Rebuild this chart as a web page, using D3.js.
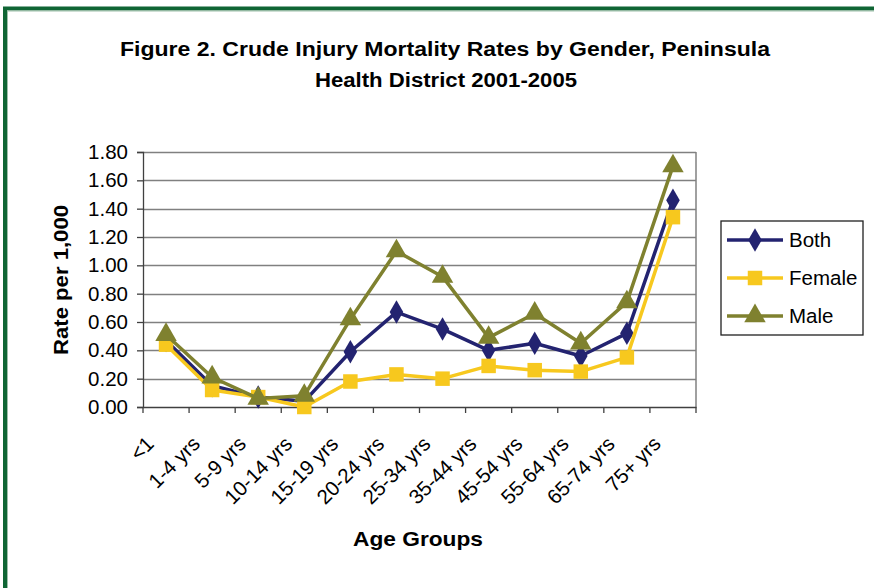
<!DOCTYPE html>
<html>
<head>
<meta charset="utf-8">
<script src="https://cdn.jsdelivr.net/npm/d3@7"></script>
<style>
  body { margin: 0; background: #fff; }
  text { font-family: "Liberation Sans", Arial, sans-serif; fill: #000; }
</style>
</head>
<body>
<div id="chartDiv"></div>
<script>
var ages = ["<1", "1-4 yrs", "5-9 yrs", "10-14 yrs", "15-19 yrs", "20-24 yrs", "25-34 yrs",
  "35-44 yrs", "45-54 yrs", "55-64 yrs", "65-74 yrs", "75+ yrs"];

var series = [
  { name: "Both", color: "#232370", shape: "diamond",
    values: [0.47, 0.15, 0.07, 0.04, 0.39, 0.67, 0.55, 0.40, 0.45, 0.36, 0.52, 1.46] },
  { name: "Female", color: "#F7C81E", shape: "square",
    values: [0.44, 0.12, 0.07, 0.00, 0.18, 0.23, 0.20, 0.29, 0.26, 0.25, 0.35, 1.34] },
  { name: "Male", color: "#7F812F", shape: "triangle",
    values: [0.51, 0.21, 0.06, 0.08, 0.62, 1.10, 0.92, 0.49, 0.66, 0.45, 0.74, 1.70] }
];

var margin = { top: 152, right: 178, bottom: 181, left: 143 };
var W = 874, H = 588;
var width = W - margin.left - margin.right;
var height = H - margin.top - margin.bottom;

var svg = d3.select("#chartDiv").append("svg")
  .attr("width", W)
  .attr("height", H);

// green frame
svg.append("rect")
  .attr("x", 5).attr("y", 8.5)
  .attr("width", W + 20).attr("height", H + 20)
  .attr("fill", "none")
  .attr("stroke", "#0F6534")
  .attr("stroke-width", 4);
svg.append("rect")
  .attr("x", 7.5).attr("y", 11)
  .attr("width", W + 20).attr("height", H + 20)
  .attr("fill", "none")
  .attr("stroke", "#9DBFA9")
  .attr("stroke-width", 1);

svg.append("text")
  .attr("x", 445).attr("y", 56)
  .attr("text-anchor", "middle")
  .attr("textLength", 650).attr("lengthAdjust", "spacingAndGlyphs")
  .style("font-size", "20px").style("font-weight", "bold")
  .text("Figure 2. Crude Injury Mortality Rates by Gender, Peninsula");
svg.append("text")
  .attr("x", 446).attr("y", 87)
  .attr("text-anchor", "middle")
  .attr("textLength", 262).attr("lengthAdjust", "spacingAndGlyphs")
  .style("font-size", "20px").style("font-weight", "bold")
  .text("Health District 2001-2005");

var g = svg.append("g")
  .attr("transform", "translate(" + margin.left + "," + margin.top + ")");

var x = d3.scaleBand().domain(ages).range([0, width]);
var y = d3.scaleLinear().domain([0, 1.8]).range([height, 0]);

// gridlines
g.append("g")
  .selectAll("line")
  .data(d3.range(0.2, 1.81, 0.2))
  .enter().append("line")
  .attr("x1", 0).attr("x2", width)
  .attr("y1", function (d) { return Math.round(y(d)) + 0.5; })
  .attr("y2", function (d) { return Math.round(y(d)) + 0.5; })
  .attr("stroke", "#808080")
  .attr("stroke-width", 1.5);

// right border
g.append("line")
  .attr("x1", width).attr("x2", width)
  .attr("y1", 0).attr("y2", height)
  .attr("stroke", "#808080").attr("stroke-width", 1.5);

var yAxis = g.append("g")
  .call(d3.axisLeft(y).tickValues(d3.range(0, 1.81, 0.2)).tickFormat(d3.format(".2f")).tickSize(6).tickPadding(9));
yAxis.selectAll("text").style("font-size", "20.5px");
yAxis.selectAll("line,path").attr("stroke", "#404040").attr("stroke-width", 1.3);

var xAxis = g.append("g")
  .attr("transform", "translate(0," + height + ")")
  .call(d3.axisBottom(x).tickSize(0).tickSizeOuter(0));
xAxis.select("path").attr("stroke", "#404040").attr("stroke-width", 1.3);
xAxis.selectAll("text")
  .style("font-size", "20.5px")
  .attr("text-anchor", "end")
  .attr("dy", null)
  .attr("transform", function () { return "translate(-13,36) rotate(-45)"; });

// category separator ticks
g.append("g")
  .selectAll("line")
  .data(d3.range(ages.length + 1))
  .enter().append("line")
  .attr("x1", function (i) { return i * x.step(); })
  .attr("x2", function (i) { return i * x.step(); })
  .attr("y1", height).attr("y2", height + 6)
  .attr("stroke", "#404040").attr("stroke-width", 1.3);

function cx(i) { return x(ages[i]) + x.bandwidth() / 2; }

var symbols = { diamond: d3.symbolDiamond, square: d3.symbolSquare, triangle: d3.symbolTriangle };
var sizes = { diamond: 160, square: 210, triangle: 200 };

var line = d3.line()
  .x(function (d, i) { return cx(i); })
  .y(function (d) { return y(d); });

series.forEach(function (s) {
  g.append("path")
    .datum(s.values)
    .attr("d", line)
    .attr("fill", "none")
    .attr("stroke", s.color)
    .attr("stroke-width", 3.5)
    .attr("stroke-linejoin", "round");
  g.selectAll(".m-" + s.shape)
    .data(s.values)
    .enter().append("path")
    .attr("class", "m-" + s.shape)
    .attr("d", d3.symbol().type(symbols[s.shape]).size(sizes[s.shape]))
    .attr("transform", function (d, i) { return "translate(" + cx(i) + "," + y(d) + ")"; })
    .attr("fill", s.color);
});

svg.append("text")
  .attr("x", 418).attr("y", 546)
  .attr("text-anchor", "middle")
  .attr("textLength", 130).attr("lengthAdjust", "spacingAndGlyphs")
  .style("font-size", "21px").style("font-weight", "bold")
  .text("Age Groups");

svg.append("text")
  .attr("transform", "translate(68,280) rotate(-90)")
  .attr("text-anchor", "middle")
  .attr("textLength", 150).attr("lengthAdjust", "spacingAndGlyphs")
  .style("font-size", "21px").style("font-weight", "bold")
  .text("Rate per 1,000");

// legend
var legend = svg.append("g").attr("transform", "translate(721,221)");
legend.append("rect")
  .attr("width", 142).attr("height", 114)
  .attr("fill", "#fff").attr("stroke", "#202020").attr("stroke-width", 1.3);
series.forEach(function (s, i) {
  var ly = 19 + i * 38;
  legend.append("line")
    .attr("x1", 6).attr("x2", 62).attr("y1", ly).attr("y2", ly)
    .attr("stroke", s.color).attr("stroke-width", 3.5);
  legend.append("path")
    .attr("d", d3.symbol().type(symbols[s.shape]).size(sizes[s.shape]))
    .attr("transform", "translate(34," + ly + ")")
    .attr("fill", s.color);
  legend.append("text")
    .attr("x", 68).attr("y", ly + 7)
    .style("font-size", "20.5px")
    .text(s.name);
});
</script>
</body>
</html>
